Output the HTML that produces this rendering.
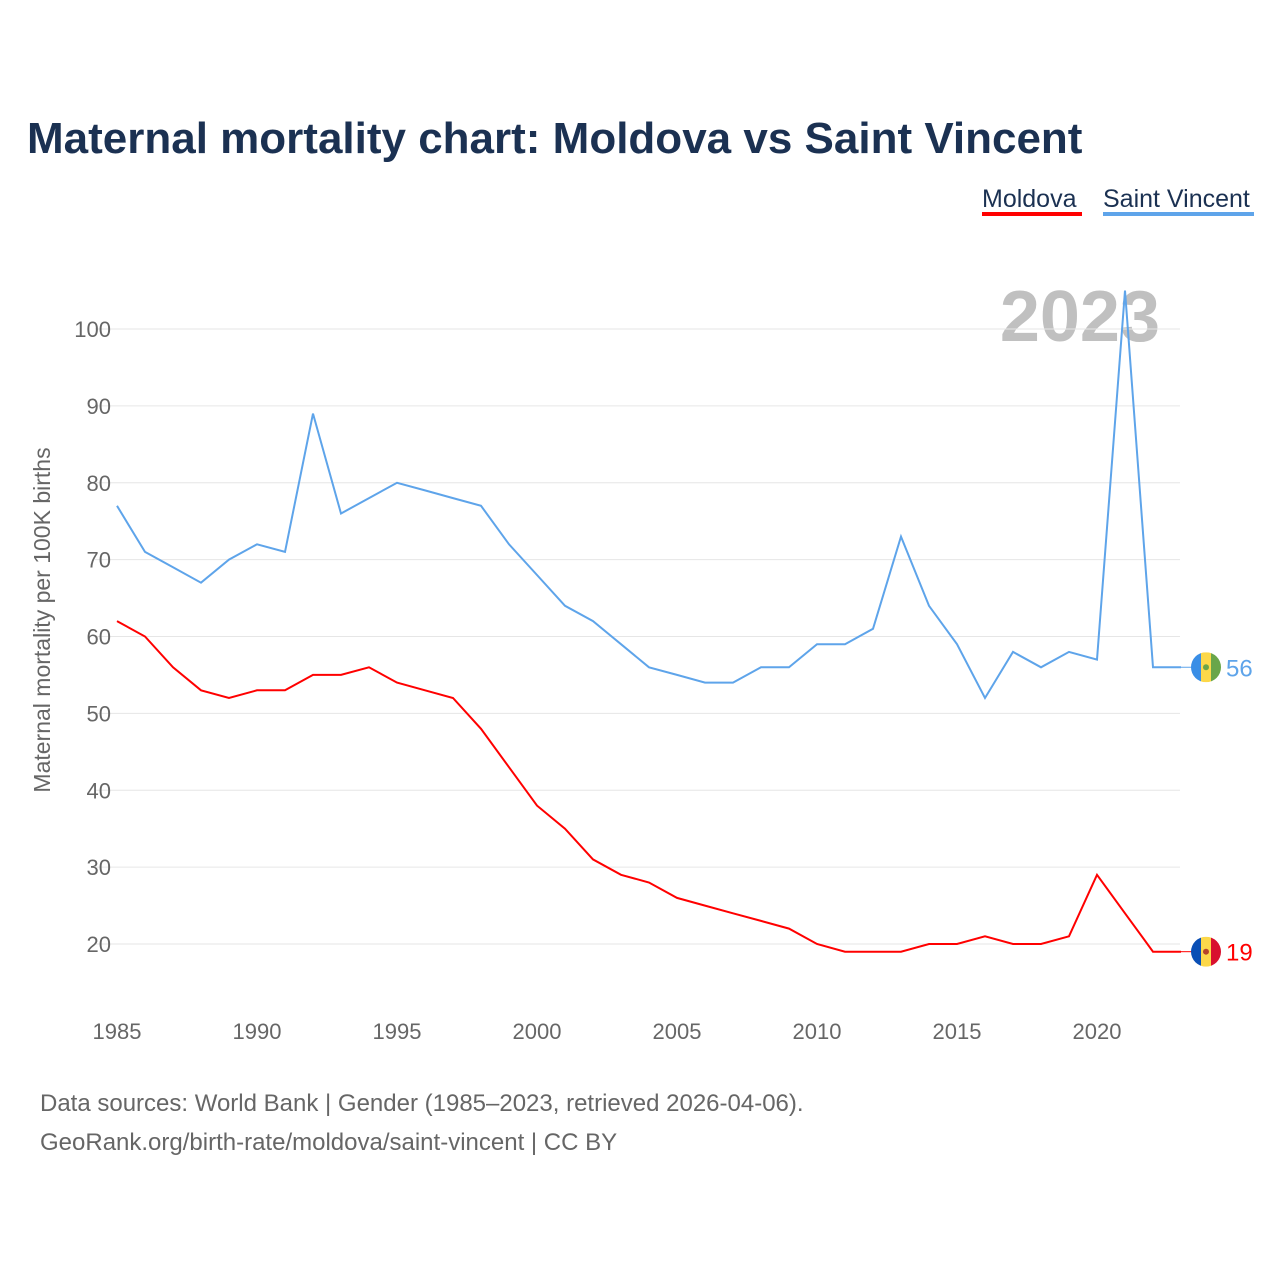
<!DOCTYPE html>
<html><head><meta charset="utf-8"><style>
body{margin:0;background:#fff;font-family:"Liberation Sans",sans-serif;}
svg{display:block}
</style></head><body>
<svg id="c" width="1280" height="1280" viewBox="0 0 1280 1280">
<rect width="1280" height="1280" fill="#fff"/>
<text x="27" y="153" font-size="44" font-weight="bold" fill="#1b3152">Maternal mortality chart: Moldova vs Saint Vincent</text>
<g>
<text x="982" y="207" font-size="25" fill="#1b3152">Moldova</text>
<rect x="982" y="212" width="100" height="4" fill="#f00"/></g>
<g>
<text x="1103" y="207" font-size="25" fill="#1b3152">Saint Vincent</text>
<rect x="1103" y="212" width="151" height="4" fill="#5ea4ea"/></g>
<text x="1160" y="341" text-anchor="end" font-size="72" font-weight="bold" fill="#c0c0c0">2023</text>
<g id="grid"></g><g id="lines"></g>
<text transform="translate(50,620) rotate(-90)" text-anchor="middle" font-size="23" fill="#666">Maternal mortality per 100K births</text>
<text x="40" y="1111" font-size="24" fill="#666">Data sources: World Bank | Gender (1985–2023, retrieved 2026-04-06).</text>
<text x="40" y="1150" font-size="24" fill="#666">GeoRank.org/birth-rate/moldova/saint-vincent | CC BY</text>
</svg>
<script>
const years=[];for(let y=1985;y<=2023;y++)years.push(y);
const moldova=[62,60,56,53,52,53,53,55,55,56,54,53,52,48,43,38,35,31,29,28,26,25,24,23,22,20,19,19,19,20,20,21,20,20,21,29,24,19,19];
const saintVincent=[77,71,69,67,70,72,71,89,76,78,80,79,78,77,72,68,64,62,59,56,55,54,54,56,56,59,59,61,73,64,59,52,58,56,58,57,105,56,56];
const yTicks=[20,30,40,50,60,70,80,90,100];
const xTicks=[1985,1990,1995,2000,2005,2010,2015,2020];
const NS="http://www.w3.org/2000/svg";
const xS=y=>117+(y-1985)*28.0;
const yS=v=>944-(v-20)*7.6875;
function el(t,a,p){const e=document.createElementNS(NS,t);for(const k in a)e.setAttribute(k,a[k]);p.appendChild(e);return e;}
const g=document.getElementById('grid'),L=document.getElementById('lines');
yTicks.forEach(v=>{
 const l=el('line',{x1:95,x2:1180,y1:yS(v),y2:yS(v),stroke:'#e6e6e6','stroke-width':1},g);
 
 
 const t=el('text',{x:111,y:yS(v)+8,'text-anchor':'end','font-size':22,fill:'#666'},g);t.textContent=v;
 
 
});
xTicks.forEach(v=>{
 const t=el('text',{x:xS(v),y:1039,'text-anchor':'middle','font-size':22,fill:'#666'},g);t.textContent=v;
 
 
});
function series(vals,color,name,flag){
 const d=vals.map((v,i)=>(i?'L':'M')+xS(years[i]).toFixed(1)+','+yS(v).toFixed(1)).join('');
 const p=el('path',{d:d,fill:'none',stroke:color,'stroke-width':2},L);
 
 
 const last=vals[vals.length-1],ly=yS(last);
 el('line',{x1:xS(2023),x2:1192,y1:ly,y2:ly,stroke:color,'stroke-width':1},L);
 const f=el('g',{},L);
 
 
 const cx=1206;
 el('clipPath',{id:'cp'+name},f).appendChild(document.createElementNS(NS,'circle'));
 const c=f.querySelector('clipPath circle');c.setAttribute('cx',cx);c.setAttribute('cy',ly);c.setAttribute('r',15);
 const cg=el('g',{'clip-path':'url(#cp'+name+')'},f);
 el('rect',{x:cx-15,y:ly-15,width:10,height:30,fill:flag[0]},cg);
 el('rect',{x:cx-5,y:ly-15,width:10,height:30,fill:flag[1]},cg);
 el('rect',{x:cx+5,y:ly-15,width:10,height:30,fill:flag[2]},cg);
 el('circle',{cx:cx,cy:ly,r:3,fill:flag[3]},cg);
 const t=el('text',{x:1226,y:ly+9,'font-size':24,fill:color},L);t.textContent=last;
 
 
}
series(saintVincent,'#5ea4ea','saint-vincent',['#3a8ee6','#fcd84a','#6aa64a','#6aa64a']);
series(moldova,'#f00','moldova',['#0a4fb5','#fcd84a','#d8102e','#b5442a']);
</script>
</body></html>
